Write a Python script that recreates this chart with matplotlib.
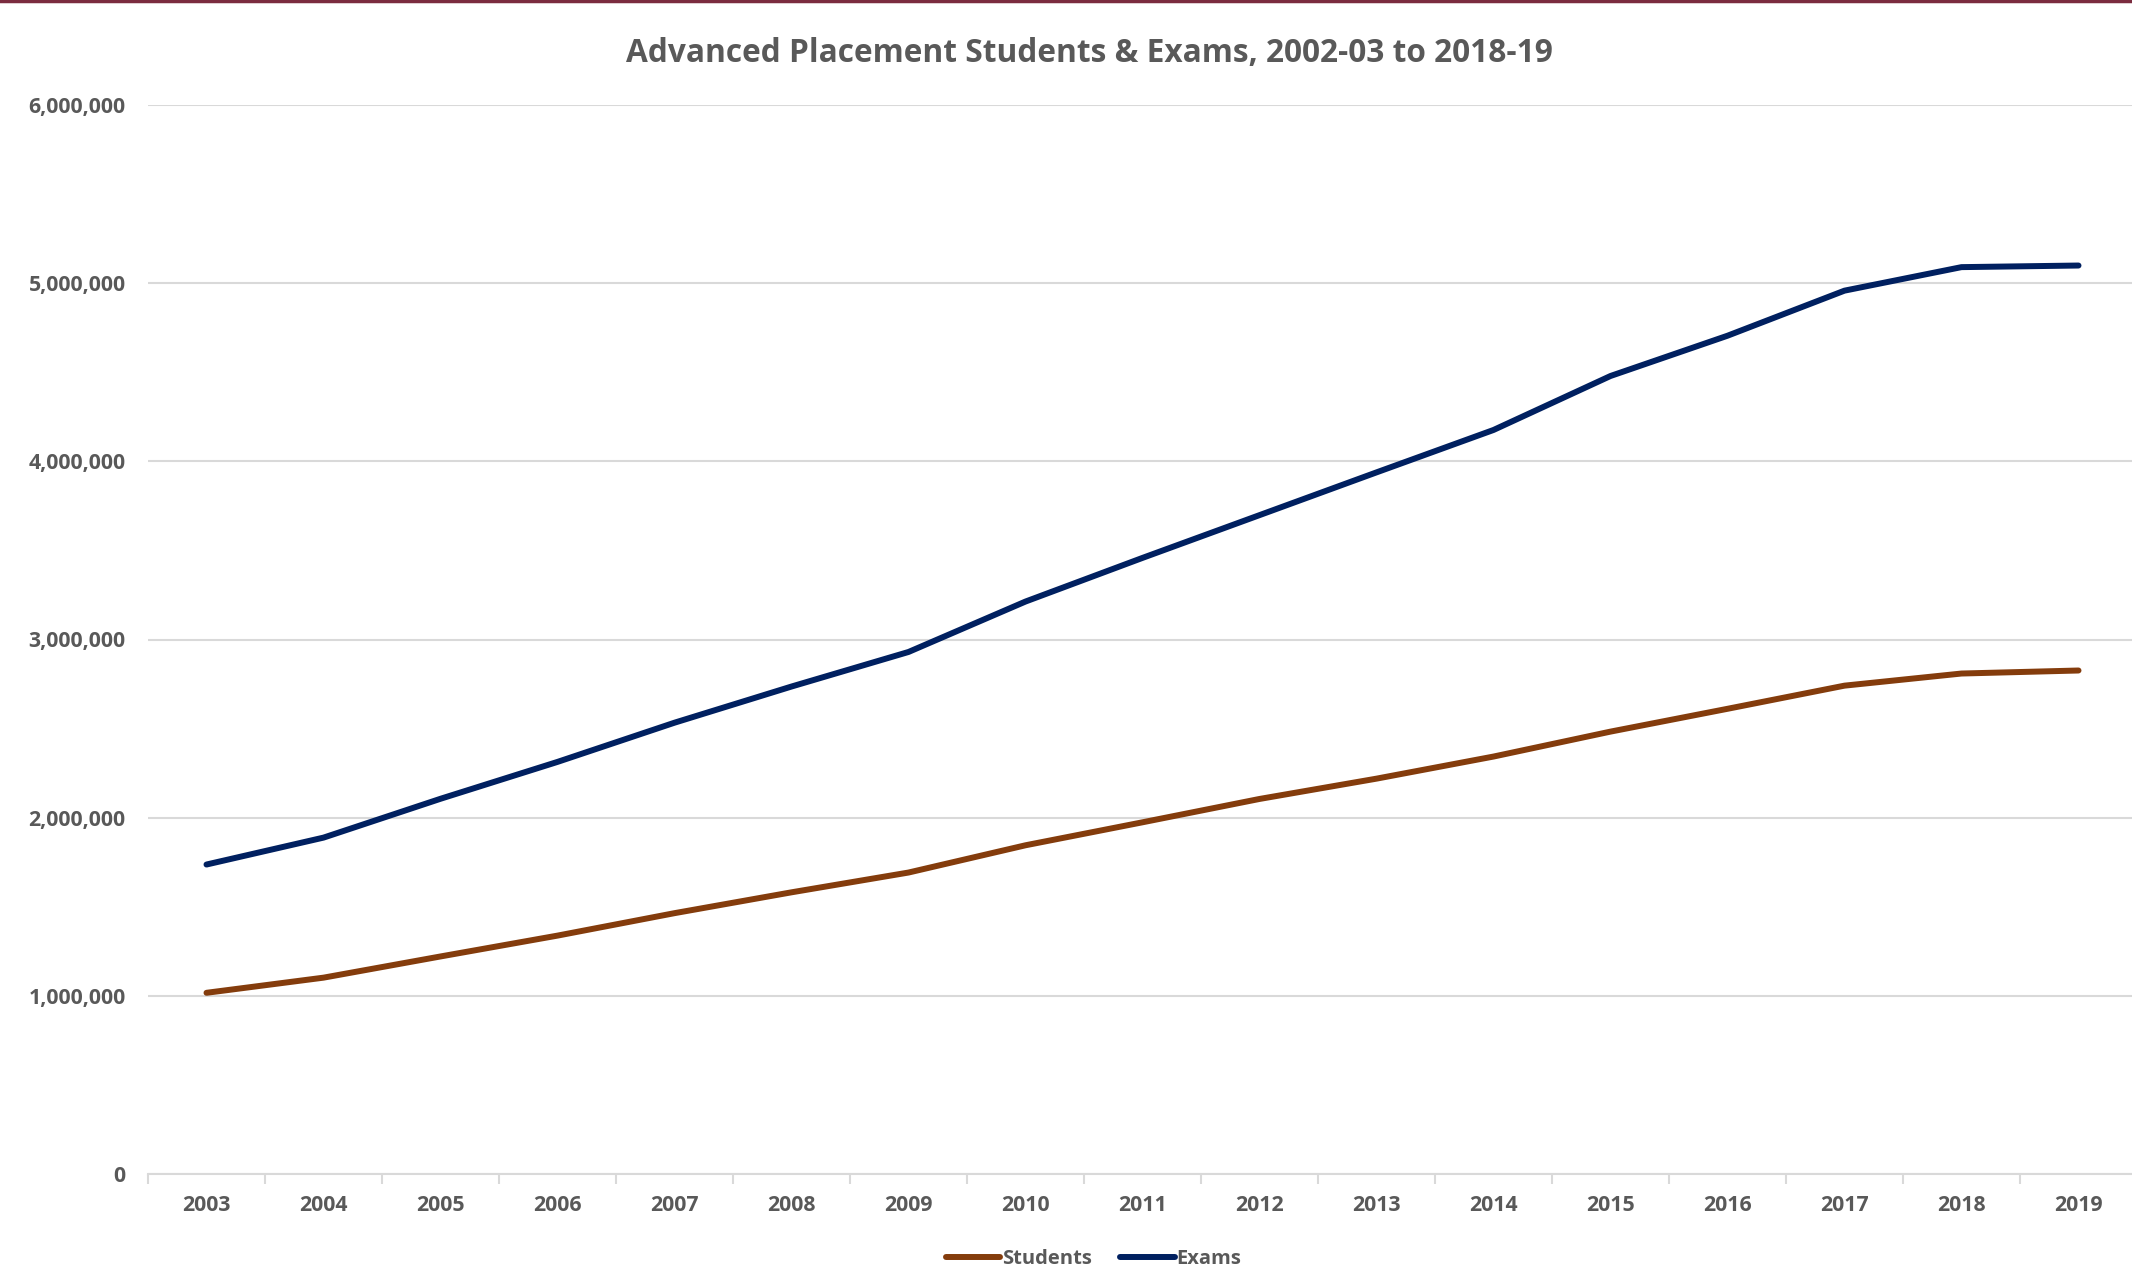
import matplotlib
matplotlib.use("Agg")
import matplotlib.pyplot as plt
from matplotlib.ticker import FuncFormatter, FixedLocator
from matplotlib.lines import Line2D

years = ["2003", "2004", "2005", "2006", "2007", "2008", "2009", "2010", "2011",
         "2012", "2013", "2014", "2015", "2016", "2017", "2018", "2019"]
students = [1017000, 1102000, 1221000, 1338000, 1464000, 1581000, 1692000, 1845000, 1974000,
            2105000, 2219000, 2343000, 2483000, 2611000, 2741000, 2809000, 2826000]
exams = [1737000, 1888000, 2106000, 2313000, 2533000, 2736000, 2930000, 3213000, 3458000,
         3698000, 3938000, 4176000, 4479000, 4705000, 4958000, 5090000, 5099000]

TXT = "#595959"
plt.rcParams["font.family"] = ["Open Sans", "DejaVu Sans"]
plt.rcParams["font.weight"] = "bold"

fig = plt.figure(figsize=(21.32, 12.67), dpi=100)
ax = fig.add_axes([148 / 2132, 93 / 1267, 1989 / 2132, 1069 / 1267])

x = list(range(len(years)))
ax.plot(x, students, color="#843C0C", lw=4.3, solid_capstyle="round", solid_joinstyle="round", label="Students")
ax.plot(x, exams, color="#002060", lw=4.3, solid_capstyle="round", solid_joinstyle="round", label="Exams")

ax.set_xlim(-0.5, len(years) - 0.5)
ax.set_ylim(0, 6000000)
ax.set_yticks(range(0, 6000001, 1000000))
ax.yaxis.set_major_formatter(FuncFormatter(lambda v, p: f"{int(v):,}"))
ax.set_xticks(x)
ax.set_xticklabels(years)
ax.xaxis.set_minor_locator(FixedLocator([i - 0.5 for i in range(len(years) + 1)]))
ax.tick_params(axis="x", which="major", length=0, pad=15, labelsize=15.3, labelcolor=TXT)
ax.tick_params(axis="x", which="minor", length=7, width=1.5, color="#D9D9D9")
ax.tick_params(axis="y", length=0, pad=16, labelsize=15.3, labelcolor=TXT)
for lab in ax.get_xticklabels() + ax.get_yticklabels():
    lab.set_fontweight("bold")
ax.grid(axis="y", color="#D9D9D9", lw=1.5)
ax.set_axisbelow(True)
for s in ["top", "right", "left"]:
    ax.spines[s].set_visible(False)
ax.spines["bottom"].set_color("#D9D9D9")
ax.spines["bottom"].set_linewidth(1.5)

fig.text(0.511, 1 - 54 / 1267, "Advanced Placement Students & Exams, 2002-03 to 2018-19",
         ha="center", va="center", fontsize=22.8, color=TXT, fontweight="bold")

leg = fig.legend(loc="center", bbox_to_anchor=(0.513, 1 - 1259 / 1267), ncol=2, frameon=False,
                 fontsize=14.5, labelcolor=TXT, handlelength=2.7, handletextpad=0.1, columnspacing=1.4)
for t in leg.get_texts():
    t.set_fontweight("bold")

fig.add_artist(Line2D([0, 1], [0.999, 0.999], color="#7B2C3F", lw=2.5, transform=fig.transFigure))

fig.savefig("out.png", dpi=100)
